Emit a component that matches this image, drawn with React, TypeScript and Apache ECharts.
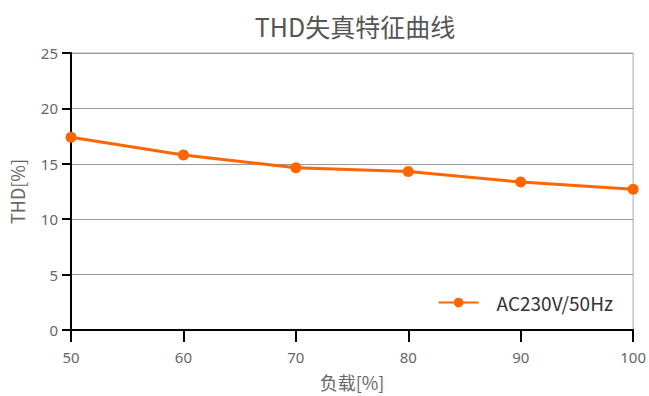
import React, { useEffect, useRef } from "react";
import * as echarts from "echarts";

const loads = [50, 60, 70, 80, 90, 100];
const thdValues = [17.4, 15.8, 14.65, 14.3, 13.35, 12.7];
const seriesName = "AC230V/50Hz";
const titleText = "THD失真特征曲线";
const xName = "负载[%]";
const yName = "THD[%]";

export default function App() {
  const ref = useRef<HTMLDivElement>(null);
  useEffect(() => {
    if (!ref.current) return;
    const chart = echarts.init(ref.current, null, { renderer: "svg" });
    const font = "'Noto Sans CJK SC', 'Noto Sans', sans-serif";
    const labelFont = "'Noto Sans', sans-serif";
    chart.setOption({
      animation: false,
      textStyle: { fontFamily: font },
      title: {
        text: titleText,
        left: 350,
        top: 8,
        textAlign: "center",
        textStyle: { fontFamily: font, fontSize: 25, fontWeight: "normal", color: "#555" },
      },
      grid: { left: 71, right: 11, top: 53, bottom: 66, show: true, borderColor: "#aaa", borderWidth: 1 },
      legend: {
        right: 36,
        top: 293,
        padding: 0,
        itemWidth: 40,
        itemHeight: 12,
        textStyle: { fontFamily: font, fontSize: 19, color: "#333", padding: [0, 0, 0, 13] },
        data: [seriesName],
      },
      xAxis: {
        type: "value",
        min: 50,
        max: 100,
        interval: 10,
        name: xName,
        nameLocation: "middle",
        nameGap: 43,
        nameTextStyle: { fontFamily: font, fontSize: 18, color: "#666" },
        axisLine: { lineStyle: { color: "#000", width: 2 } },
        axisTick: { show: true, length: 12, lineStyle: { color: "#000", width: 2 } },
        axisLabel: { fontFamily: labelFont, fontSize: 15, color: "#666", margin: 19 },
        splitLine: { show: false },
      },
      yAxis: {
        type: "value",
        min: 0,
        max: 25,
        interval: 5,
        name: yName,
        nameLocation: "middle",
        nameGap: 45,
        nameTextStyle: { fontFamily: font, fontSize: 18, color: "#666" },
        axisLine: { show: true, lineStyle: { color: "#000", width: 2 } },
        axisTick: { show: true, length: 9, lineStyle: { color: "#000", width: 2 } },
        axisLabel: { fontFamily: labelFont, fontSize: 15, color: "#666", margin: 13 },
        splitLine: { show: true, lineStyle: { color: "#999", width: 1 } },
      },
      series: [
        {
          name: seriesName,
          type: "line",
          data: loads.map((x, i) => [x, thdValues[i]]),
          symbol: "circle",
          symbolSize: 11,
          lineStyle: { color: "#ff6600", width: 3 },
          itemStyle: { color: "#ff6600" },
        },
      ],
    });
    return () => chart.dispose();
  }, []);
  return <div ref={ref} style={{ width: 649, height: 396, position: "absolute", left: 0, top: 0 }} />;
}
